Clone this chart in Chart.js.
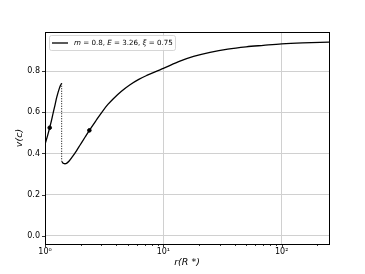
<!DOCTYPE html>
<html>
<head>
<meta charset="utf-8">
<script src="https://cdn.jsdelivr.net/npm/chart.js@4/dist/chart.umd.min.js"></script>
<style>
  html, body { margin: 0; padding: 0; background: #fff; }
  #wrap { width: 365px; height: 274px; }
</style>
</head>
<body>
<div id="wrap"><canvas id="myChart" width="365" height="274"></canvas></div>
<script>
// left (fast) branch of the solution
var branch1R = [1.00, 1.05, 1.096, 1.14, 1.175, 1.22, 1.256, 1.29, 1.32, 1.35, 1.383];
var branch1V = [0.444, 0.485, 0.525, 0.565, 0.600, 0.640, 0.672, 0.697, 0.715, 0.730, 0.741];
// right branch after the jump
var branch2R = [1.383, 1.41, 1.44, 1.476, 1.52, 1.6, 1.7, 1.85, 1.98, 2.19, 2.37, 2.7, 3.02, 3.4, 3.78, 4.4, 5.23, 6.2, 7.24, 8.8, 10, 13.8, 18, 24.8, 35, 50, 70, 100, 150, 251];
var branch2V = [0.362, 0.355, 0.351, 0.350, 0.352, 0.363, 0.383, 0.414, 0.441, 0.481, 0.512, 0.560, 0.600, 0.638, 0.666, 0.701, 0.734, 0.760, 0.779, 0.800, 0.813, 0.848, 0.871, 0.891, 0.907, 0.918, 0.925, 0.932, 0.937, 0.941];
// sonic points
var markerR = [1.096, 2.37];
var markerV = [0.525, 0.512];

var yTicks = [0.0, 0.2, 0.4, 0.6, 0.8];
var xMajor = [1, 10, 100];
var xMajorLabels = ['10⁰', '10¹', '10²'];
var xMinor = [2, 3, 4, 5, 6, 7, 8, 9, 20, 30, 40, 50, 60, 70, 80, 90, 200];

var legendParts = [['m', true], [' = 0.8, ', false], ['E', true], [' = 3.26, ', false], ['ξ', true], [' = 0.75', false]];

var FONT = "'DejaVu Sans', sans-serif";

function pts(rs, vs) {
    var out = [];
    for (var i = 0; i < rs.length; i++) out.push({ x: rs[i], y: vs[i] });
    return out;
}

var jump = [
    { x: branch1R[branch1R.length - 1], y: branch1V[branch1V.length - 1] },
    { x: branch2R[0], y: branch2V[0] }
];

var extras = {
    id: 'extras',
    afterDraw: function (chart) {
        var ctx = chart.ctx;
        var a = chart.chartArea;
        var xs = chart.scales.x, ys = chart.scales.y;
        ctx.save();
        // frame
        ctx.strokeStyle = '#000';
        ctx.lineWidth = 1;
        ctx.strokeRect(Math.round(a.left) + 0.5, Math.round(a.top) + 0.5, Math.round(a.right - a.left), Math.round(a.bottom - a.top));
        // ticks
        ctx.beginPath();
        xMajor.forEach(function (v) {
            var px = Math.round(xs.getPixelForValue(v)) + 0.5;
            ctx.moveTo(px, a.bottom); ctx.lineTo(px, a.bottom + 3);
        });
        xMinor.forEach(function (v) {
            var px = Math.round(xs.getPixelForValue(v)) + 0.5;
            ctx.moveTo(px, a.bottom); ctx.lineTo(px, a.bottom + 2);
        });
        yTicks.forEach(function (v) {
            var py = Math.round(ys.getPixelForValue(v)) + 0.5;
            ctx.moveTo(a.left, py); ctx.lineTo(a.left - 3, py);
        });
        ctx.lineWidth = 0.8;
        ctx.stroke();

        // legend
        var size = 10;
        var w = 0;
        legendParts.forEach(function (p) {
            ctx.font = (p[1] ? 'italic ' : '') + size + 'px ' + FONT;
            w += ctx.measureText(p[0]).width;
        });
        size = size * 99 / w;
        var bx = a.left + 4, by = a.top + 3, bw = 126, bh = 15;
        ctx.fillStyle = 'rgba(255,255,255,0.85)';
        ctx.strokeStyle = '#cccccc';
        ctx.lineWidth = 0.8;
        ctx.beginPath();
        ctx.roundRect(bx + 0.5, by + 0.5, bw, bh, 2);
        ctx.fill();
        ctx.stroke();
        ctx.beginPath();
        ctx.strokeStyle = '#000';
        ctx.lineWidth = 1.3;
        ctx.moveTo(bx + 3, by + 8); ctx.lineTo(bx + 19, by + 8);
        ctx.stroke();
        var tx = bx + 25;
        ctx.fillStyle = '#000';
        ctx.textBaseline = 'middle';
        legendParts.forEach(function (p) {
            ctx.font = (p[1] ? 'italic ' : '') + size.toFixed(2) + 'px ' + FONT;
            ctx.fillText(p[0], tx, by + 8);
            tx += ctx.measureText(p[0]).width;
        });
        ctx.restore();
    }
};

var lineStyle = { borderColor: '#000', backgroundColor: '#000', borderWidth: 1.3, pointRadius: 0, cubicInterpolationMode: 'monotone', fill: false };

Chart.defaults.font.family = FONT;
Chart.defaults.color = '#000';

const ctx = document.getElementById('myChart').getContext('2d');
const myChart = new Chart(ctx, {
    type: 'line',
    data: {
        datasets: [
            Object.assign({ label: 'branch1', data: pts(branch1R, branch1V) }, lineStyle),
            { label: 'jump', data: jump, borderColor: '#000', borderWidth: 1, borderDash: [1, 1.5], pointRadius: 0, fill: false },
            Object.assign({ label: 'branch2', data: pts(branch2R, branch2V) }, lineStyle),
            { label: 'sonic', type: 'scatter', data: pts(markerR, markerV), backgroundColor: '#000', borderColor: '#000', pointRadius: 1.8, showLine: false }
        ]
    },
    options: {
        responsive: false,
        animation: false,
        layout: { padding: { top: 32, right: 36, left: 0, bottom: 0 } },
        plugins: { legend: { display: false }, tooltip: { enabled: false } },
        events: [],
        scales: {
            x: {
                type: 'logarithmic',
                min: 1,
                max: 251,
                afterBuildTicks: function (scale) {
                    scale.ticks = xMajor.map(function (v) { return { value: v, major: true }; });
                },
                afterFit: function (scale) { scale.height = 30; },
                ticks: {
                    autoSkip: false,
                    maxRotation: 0,
                    padding: 3,
                    font: { size: 8 },
                    callback: function (v) {
                        var i = xMajor.indexOf(v);
                        return i >= 0 ? xMajorLabels[i] : '';
                    }
                },
                grid: { color: '#d0d0d0', lineWidth: 1, drawTicks: false },
                border: { display: false },
                title: { display: true, text: 'r(R *)', font: { size: 9.5, style: 'italic' }, padding: { top: 0, bottom: 6 } }
            },
            y: {
                min: -0.04,
                max: 0.99,
                afterBuildTicks: function (scale) {
                    scale.ticks = yTicks.map(function (v) { return { value: v }; });
                },
                afterFit: function (scale) { scale.width = 45; },
                ticks: {
                    padding: 5,
                    font: { size: 8 },
                    callback: function (v) { return Number(v).toFixed(1); }
                },
                grid: { color: '#d0d0d0', lineWidth: 1, drawTicks: false },
                border: { display: false },
                title: { display: true, text: 'v(c)', font: { size: 9.5, style: 'italic' }, padding: { top: 14, bottom: 0 } }
            }
        }
    },
    plugins: [extras]
});
</script>
</body>
</html>
